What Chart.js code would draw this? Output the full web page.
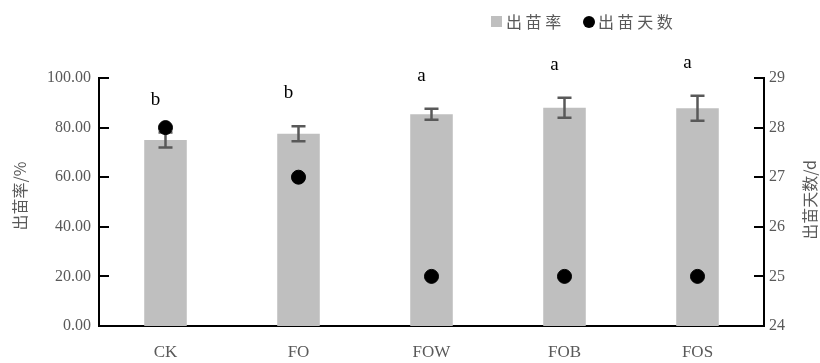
<!DOCTYPE html>
<html>
<head>
<meta charset="utf-8">
<script src="https://cdn.jsdelivr.net/npm/chart.js@4/dist/chart.umd.min.js"></script>
<style>
html,body{margin:0;padding:0;background:#fff;}
#wrap{width:820px;height:363px;position:relative;}
</style>
</head>
<body>
<div id="wrap"><canvas id="c" width="820" height="363"></canvas></div>
<script>
const categories = ["CK", "FO", "FOW", "FOB", "FOS"];
const emergenceRate = [75.0, 77.5, 85.4, 88.0, 87.8];
const emergenceRateErr = [3.0, 3.0, 2.2, 4.0, 5.0];
const emergenceDays = [28, 27, 25, 25, 25];
const sigLetters = ["b", "b", "a", "a", "a"];
const leftTicks = [0, 20, 40, 60, 80, 100];
const rightTicks = [24, 25, 26, 27, 28, 29];

const SERIF = '"Liberation Serif", "Noto Sans CJK SC", serif';
const CJK = '"Noto Sans CJK SC", "Liberation Serif", sans-serif';
const GRAY = '#595959';
const BAR = '#bfbfbf';

const extras = {
  id: 'extras',
  afterDatasetDraw(chart, args) {
    if (args.index !== 0) return;
    const ctx = chart.ctx;
    const y = chart.scales.y;
    const meta = chart.getDatasetMeta(0);
    ctx.save();
    ctx.strokeStyle = GRAY;
    ctx.lineWidth = 2.5;
    meta.data.forEach((bar, i) => {
      const v = emergenceRate[i], e = emergenceRateErr[i];
      const yt = y.getPixelForValue(v + e), yb = y.getPixelForValue(v - e);
      ctx.beginPath();
      ctx.moveTo(bar.x, yt); ctx.lineTo(bar.x, yb);
      ctx.moveTo(bar.x - 7, yt); ctx.lineTo(bar.x + 7, yt);
      ctx.moveTo(bar.x - 7, yb); ctx.lineTo(bar.x + 7, yb);
      ctx.stroke();
    });
    ctx.restore();
  },
  afterDraw(chart) {
    const ctx = chart.ctx;
    const y = chart.scales.y, y1 = chart.scales.y1;
    const a = chart.chartArea;
    ctx.save();
    // inward ticks
    ctx.strokeStyle = '#000';
    ctx.lineWidth = 2;
    leftTicks.forEach(t => {
      const py = Math.round(y.getPixelForValue(t));
      ctx.beginPath(); ctx.moveTo(a.left, py); ctx.lineTo(a.left + 10, py); ctx.stroke();
    });
    rightTicks.forEach(t => {
      const py = Math.round(y1.getPixelForValue(t));
      ctx.beginPath(); ctx.moveTo(a.right, py); ctx.lineTo(a.right - 10, py); ctx.stroke();
    });
    // significance letters
    const meta = chart.getDatasetMeta(0);
    ctx.fillStyle = '#000';
    ctx.font = '19px ' + SERIF;
    ctx.textAlign = 'center';
    ctx.textBaseline = 'middle';
    meta.data.forEach((bar, i) => {
      const top = y.getPixelForValue(emergenceRate[i] + emergenceRateErr[i]);
      ctx.fillText(sigLetters[i], bar.x - 10, top - 33);
    });
    // axis titles (both read bottom-to-top)
    ctx.fillStyle = GRAY;
    ctx.font = '16px ' + CJK;
    ctx.save();
    ctx.translate(20, 196); ctx.rotate(-Math.PI / 2);
    ctx.fillText('出苗率/%', 0, 0);
    ctx.restore();
    ctx.save();
    ctx.translate(810, 200); ctx.rotate(-Math.PI / 2);
    ctx.fillText('出苗天数/d', 0, 0);
    ctx.restore();
    // legend
    ctx.textAlign = 'left';
    ctx.fillStyle = BAR;
    ctx.fillRect(491, 16, 11, 11);
    ctx.fillStyle = GRAY;
    ctx.fillText('出 苗 率', 506, 22);
    ctx.fillStyle = '#000';
    ctx.beginPath(); ctx.arc(589, 22, 6, 0, Math.PI * 2); ctx.fill();
    ctx.fillStyle = GRAY;
    ctx.fillText('出 苗 天 数', 598, 22);
    ctx.restore();
  }
};

new Chart(document.getElementById('c'), {
  data: {
    labels: categories,
    datasets: [
      {
        type: 'bar',
        label: '出苗率',
        data: emergenceRate,
        backgroundColor: BAR,
        yAxisID: 'y',
        order: 2,
        barPercentage: 0.32,
        categoryPercentage: 1.0
      },
      {
        type: 'line',
        label: '出苗天数',
        data: emergenceDays,
        showLine: false,
        pointRadius: 7,
        pointHoverRadius: 7,
        pointStyle: 'circle',
        pointBackgroundColor: '#000',
        pointBorderColor: '#000',
        yAxisID: 'y1',
        order: 1
      }
    ]
  },
  options: {
    responsive: false,
    animation: false,
    events: [],
    layout: { padding: { top: 78, left: 0, right: 0, bottom: 0 } },
    plugins: { legend: { display: false }, tooltip: { enabled: false } },
    scales: {
      x: {
        grid: { display: false, drawTicks: false },
        border: { color: '#000', width: 2 },
        ticks: { color: GRAY, font: { family: SERIF, size: 17 }, padding: 16 },
        afterFit(s) { s.height = 37; }
      },
      y: {
        position: 'left',
        min: 0, max: 100,
        afterBuildTicks(s) { s.ticks = leftTicks.map(v => ({ value: v })); },
        grid: { display: false, drawTicks: false },
        border: { color: '#000', width: 2 },
        ticks: { color: GRAY, font: { family: SERIF, size: 16 }, padding: 8,
          callback: v => Number(v).toFixed(2) },
        afterFit(s) { s.width = 99; }
      },
      y1: {
        position: 'right',
        min: 24, max: 29,
        afterBuildTicks(s) { s.ticks = rightTicks.map(v => ({ value: v })); },
        grid: { display: false, drawTicks: false },
        border: { color: '#000', width: 2 },
        ticks: { color: GRAY, font: { family: SERIF, size: 16 }, padding: 5 },
        afterFit(s) { s.width = 56; }
      }
    }
  },
  plugins: [extras]
});
</script>
</body>
</html>
